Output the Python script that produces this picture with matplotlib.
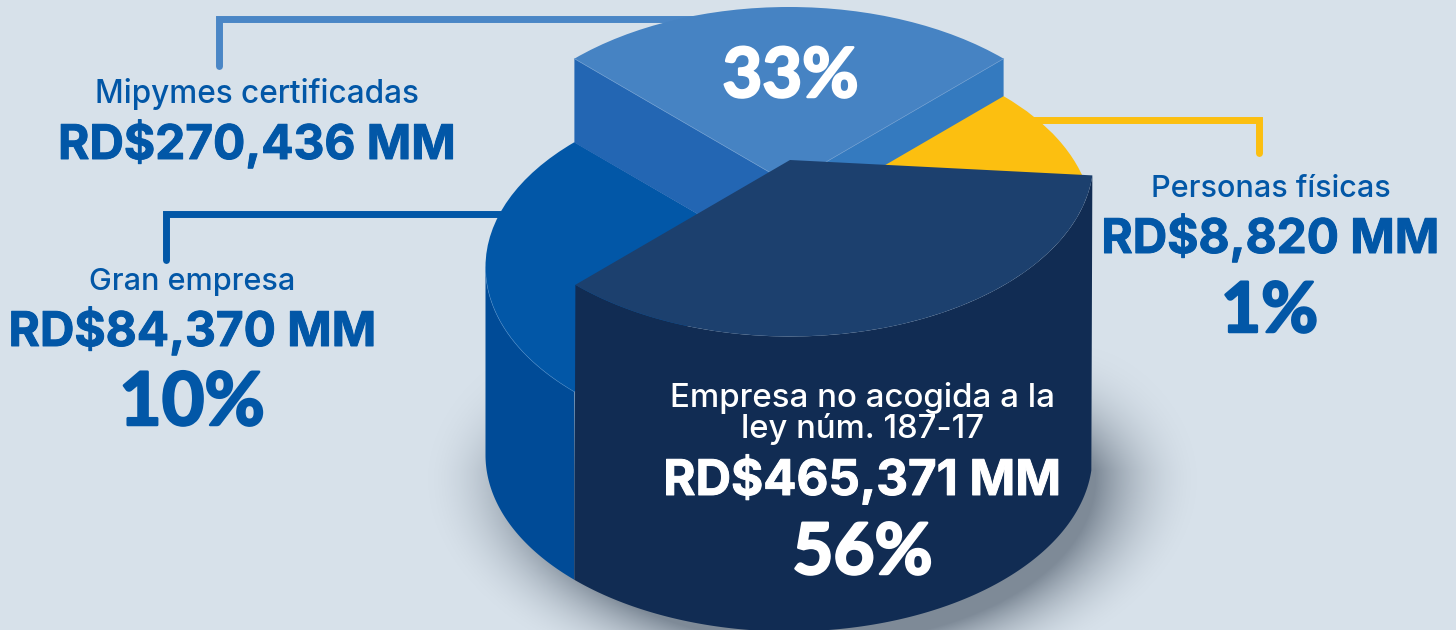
import matplotlib
matplotlib.use("Agg")
import matplotlib.pyplot as plt
from matplotlib.patches import Wedge
from matplotlib.transforms import Affine2D
import matplotlib.patheffects as pe
import numpy as np

# Datos
categories = ["Mipymes certificadas", "Personas físicas", "Empresa no acogida a la\nley núm. 187-17", "Gran empresa"]
amounts = [270436, 8820, 465371, 84370]
shares = [33, 1, 56, 10]
# Angulos de los bordes tal como se ven en la figura (no proporcionales)
slice_edges = [-135, -45, 5, 135, 225]

BG = "#d7e1ea"
BLUE = "#0257a7"
RX, RY = 303.5, 176.5
CX = 789

fig = plt.figure(figsize=(14.56, 6.30), dpi=100, facecolor=BG)
ax = fig.add_axes([0, 0, 1, 1])
ax.set_xlim(0, 1456)
ax.set_ylim(630, 0)
ax.axis("off")


def arc(cy, a, b, cx=CX):
    t = np.radians(np.linspace(a, b, 200))
    return cx + RX * np.cos(t), cy + RY * np.sin(t)


def top(cy, a, b, color, z, cx=CX):
    tr = Affine2D().scale(RX, RY).translate(cx, cy) + ax.transData
    ax.add_patch(Wedge((0, 0), 1, a, b, transform=tr, fc=color, ec="none", zorder=z))


# Sombra
yy, xx = np.mgrid[0:630, 0:1456]
d = (np.sqrt(((xx - 812) / 300) ** 2 + ((yy - 478) / 175) ** 2) - 1) * 175
alpha = 0.72 * np.clip(1 - (d + 10) / 64, 0, 1) ** 2
alpha = alpha * np.clip((yy - 340) / 130, 0, 1)
rgba = np.zeros((630, 1456, 4))
rgba[..., :3] = np.array([0.36, 0.41, 0.47])
rgba[..., 3] = alpha
ax.imshow(rgba, extent=(0, 1456, 630, 0), aspect="auto", zorder=1)
ax.set_xlim(0, 1456)
ax.set_ylim(630, 0)

# Lineas guia
line = dict(lw=5, solid_capstyle="round", solid_joinstyle="miter")
ax.plot([219, 219, 720], [66, 19, 19], color="#4a86c6", zorder=2, **line)
ax.plot([165.5, 165.5, 520], [260, 214, 214], color=BLUE, zorder=2, **line)
ax.plot([1030, 1258.5, 1258.5], [120, 120, 153], color="#fcbf10", zorder=2, **line)

# Gran empresa: pared y cara superior
a, b = slice_edges[3], slice_edges[4]
x1, y1 = arc(267, a, 180)
x2, y2 = arc(455, 180, a)
ax.fill(np.r_[x1, x2], np.r_[y1, y2], color="#004b97", lw=0, zorder=3)
top(267, a, b, BLUE, 4)
x1, y1 = arc(267, a, 180)
ax.plot(x1, y1, color="#4a8ccc", lw=0.5, alpha=0.6, zorder=4.5)

# Mipymes: paredes y cara superior
a, b = slice_edges[0], slice_edges[1]
x0, y0 = arc(183.5, a, a)
ax.fill([x0[0], x0[0], CX, CX], [y0[0], y0[0] + 84, 267, 183.5], color="#2366b3", lw=0, zorder=5)
x3, y3 = arc(183.5, b, b)
ax.fill([x3[0], x3[0], CX, CX], [y3[0], y3[0] + 84, 267, 183.5], color="#347abf", lw=0, zorder=5)
top(183.5, a, b, "#4683c3", 6)
ax.plot([x0[0], CX, x3[0]], [y0[0], 183.5, y3[0]], color="#6a9bd0", lw=0.5, zorder=6.5)

# Personas fisicas (el resto queda oculto tras la porcion grande)
top(221, slice_edges[1], slice_edges[2] - 15, "#fcbf10", 7)

# Empresa no acogida: pared y cara superior
a, b = slice_edges[2], slice_edges[3]
x1, y1 = arc(160, a, b, cx=790)
x2, y2 = arc(455, b, a)
ax.fill(np.r_[x1, x2], np.r_[y1, y2], color="#112c53", lw=0, zorder=8)
top(160, a, b, "#1c406e", 9, cx=790)


# Textos
def label(x, y, s, size, color=BLUE, weight="normal", font="Inter", stroke=0):
    t = ax.text(x, y, s, fontsize=size, color=color, weight=weight, family=font,
                ha="center", va="baseline", zorder=10)
    if stroke:
        t.set_path_effects([pe.withStroke(linewidth=stroke, foreground=color)])


def money(v):
    return f"RD${v:,} MM"


def pct(v):
    return f"{v}%"


SMALL, MID, BIG = 22.7, 34.4, 51

label(256.5, 103, categories[0], SMALL, weight="medium")
label(257, 159, money(amounts[0]), MID, weight="bold", stroke=0.7)
label(790.5, 97, pct(shares[0]), 49.5, "white", "bold", "Lato", 1.8)

label(1270.5, 197, categories[1], SMALL - 0.7, weight="medium")
label(1270.5, 253, money(amounts[1]), MID, weight="bold", stroke=0.7)
label(1269.5, 332, pct(shares[1]), BIG - 1, weight="bold", font="Lato", stroke=1.8)

l1, l2 = categories[2].split("\n")
label(862, 407, l1, 23.8, "white", "medium")
label(862.5, 438, l2, 23.6, "white", "medium")
label(862, 495, money(amounts[2]), 35.4, "white", "bold", stroke=0.7)
label(862.5, 574, pct(shares[2]), BIG, "white", "bold", "Lato", 1.8)

label(192.5, 290, categories[3], SMALL - 0.7, weight="medium")
label(192.5, 346, money(amounts[3]), MID, weight="bold", stroke=0.7)
label(192, 425, pct(shares[3]), 53, weight="bold", font="Lato", stroke=1.8)

fig.savefig("out.png", dpi=100, facecolor=BG)
